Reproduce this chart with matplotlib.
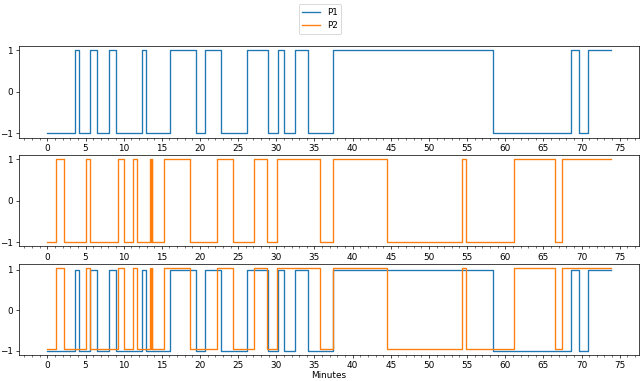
import matplotlib
matplotlib.use("Agg")
import matplotlib.pyplot as plt
from matplotlib.ticker import MultipleLocator

# switching times (minutes) and state held from each time on (steps-post)
p1_times = [0, 3.62, 4.1, 5.63, 6.5, 8.12, 9.0, 12.45, 12.97, 16.1, 19.5, 20.7,
            22.8, 26.2, 28.95, 30.26, 30.96, 32.5, 34.2, 37.47, 58.37, 68.6,
            69.7, 70.8, 73.8]
p1_values = [-1, 1, -1, 1, -1, 1, -1, 1, -1, 1, -1, 1,
             -1, 1, -1, 1, -1, 1, -1, 1, -1, 1,
             -1, 1, 1]

p2_times = [0, 1.09, 2.18, 5.07, 5.55, 9.26, 10.04, 11.22, 11.79, 13.45, 13.55,
            13.65, 13.75, 15.24, 18.73, 22.23, 24.32, 27.07, 28.82, 30.13,
            35.75, 37.4, 44.44, 54.37, 54.89, 61.2, 66.5, 67.43, 73.8]
p2_values = [-1, 1, -1, 1, -1, 1, -1, 1, -1, 1, -1,
             1, -1, 1, -1, 1, -1, 1, -1, 1,
             -1, 1, -1, 1, -1, 1, -1, 1, 1]

OFFSET = 0.05  # small shift so the overlaid P2 line stays visible

# drawn at 10in wide and 64 dpi so default sizes shrink like the original
fig, axes = plt.subplots(3, 1, figsize=(10, 381 / 64), dpi=64)
fig.subplots_adjust(left=0.030, right=0.998, top=0.879, bottom=0.068, hspace=0.19)

axes[0].step(p1_times, p1_values, where="post", color="C0", label="P1")
axes[1].step(p2_times, p2_values, where="post", color="C1", label="P2")
axes[2].step(p1_times, p1_values, where="post", color="C0")
axes[2].step(p2_times, [v + OFFSET for v in p2_values], where="post", color="C1")

for ax in axes:
    ax.set_yticks([-1, 0, 1])
    ax.xaxis.set_major_locator(MultipleLocator(5))
    ax.xaxis.set_minor_locator(MultipleLocator(1))

axes[2].set_xlabel("Minutes", labelpad=1)

fig.legend(loc="upper center", bbox_to_anchor=(0.5, 1.0))

fig.savefig("out.png", dpi=64)
